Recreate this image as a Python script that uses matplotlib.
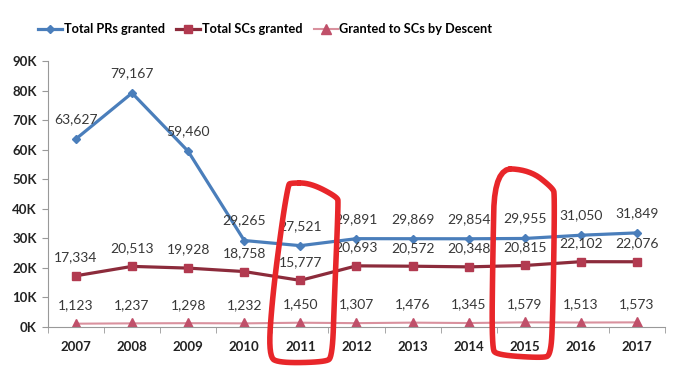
import matplotlib
matplotlib.use("Agg")
import matplotlib.pyplot as plt
from matplotlib.patches import PathPatch
from matplotlib.path import Path

years = ["2007", "2008", "2009", "2010", "2011", "2012", "2013", "2014", "2015", "2016", "2017"]
total_prs = [63627, 79167, 59460, 29265, 27521, 29891, 29869, 29854, 29955, 31050, 31849]
total_scs = [17334, 20513, 19928, 18758, 15777, 20693, 20572, 20348, 20815, 22102, 22076]
descent = [1123, 1237, 1298, 1232, 1450, 1307, 1476, 1345, 1579, 1513, 1573]
yticks = [0, 10000, 20000, 30000, 40000, 50000, 60000, 70000, 80000, 90000]
ytick_labels = ["0K", "10K", "20K", "30K", "40K", "50K", "60K", "70K", "80K", "90K"]
highlight = ["2011", "2015"]

plt.rcParams['font.family'] = ['Lato', 'DejaVu Sans']

W, H = 680, 383
fig = plt.figure(figsize=(6.8, 3.83), dpi=100)
ax = fig.add_axes([0.0704, 0.1462, 0.9076, 0.6945])
x = list(range(len(years)))

c_pr = "#4a7ebb"
c_sc = "#8c2b3b"
c_sc_m = "#b23a50"
c_de = "#d9919e"
c_de_m = "#c0506a"

ax.plot(x, total_prs, color=c_pr, lw=2.3, marker="D", ms=4.5, mfc=c_pr, mec=c_pr, label="Total PRs granted")
ax.plot(x, total_scs, color=c_sc, lw=2.3, marker="s", ms=6, mfc=c_sc_m, mec=c_sc_m, label="Total SCs granted")
ax.plot(x, descent, color=c_de, lw=1.5, marker="^", ms=6.5, mfc=c_de_m, mec=c_de_m, label="Granted to SCs by Descent")

for series, off in ((total_prs, 10), (total_scs, 9), (descent, 9)):
    for xi, v in zip(x, series):
        ax.annotate(f"{v:,}", (xi, v), xytext=(0, off), textcoords="offset points",
                    ha="center", va="bottom", fontsize=10, color="#383838")

ax.set_xlim(-0.5, len(years) - 0.5)
ax.set_ylim(0, 90000)
ax.set_yticks(yticks)
ax.set_yticklabels(ytick_labels, fontsize=9.5, fontweight="bold", color="#222222")
ax.set_xticks(x)
ax.set_xticklabels(years, fontsize=9.5, fontweight="bold", color="#222222")
ax.set_xticks([i + 0.5 for i in range(-1, len(years))], minor=True)
ax.tick_params(axis="x", which="major", length=0, pad=10)
ax.tick_params(axis="x", which="minor", length=4, color="#999999")
ax.tick_params(axis="y", length=4, color="#999999", pad=4)
for s in ["top", "right"]:
    ax.spines[s].set_visible(False)
for s in ["left", "bottom"]:
    ax.spines[s].set_color("#999999")

fig.legend(handles=ax.get_lines(), loc="center", bbox_to_anchor=(0.39, 1 - 29 / H),
           ncol=3, frameon=False, handlelength=1.9, columnspacing=0.9,
           handletextpad=0.1, prop={"weight": "bold", "size": 9.2})

# hand-drawn red highlight marks: (dx pixels from category centre, y pixels from top)
shapes = {
    "2011": [(-10, 183), (10, 183), (37, 197), (38, 203), (34, 300), (32, 357), (25, 362),
             (-20, 363), (-32, 357), (-28, 297), (-18, 220), (-12, 185)],
    "2015": [(-30, 168), (5, 170), (28, 188), (30, 195), (28, 318), (26, 355), (18, 358),
             (-28, 355), (-33, 348), (-32, 255)],
}


def chaikin(pts, n=2):
    for _ in range(n):
        out = []
        m = len(pts)
        for k in range(m):
            p, q = pts[k], pts[(k + 1) % m]
            out.append((0.75 * p[0] + 0.25 * q[0], 0.75 * p[1] + 0.25 * q[1]))
            out.append((0.25 * p[0] + 0.75 * q[0], 0.25 * p[1] + 0.75 * q[1]))
        pts = out
    return pts


fig.canvas.draw()
for yr in highlight:
    i = years.index(yr)
    cx = ax.transData.transform((i, 0))[0]
    raw = [(cx + dx, py) for dx, py in shapes[yr]]
    sm = chaikin(raw, 3)
    pts = [(px / W, 1 - py / H) for px, py in sm]
    pts.append(pts[0])
    path = Path(pts, [Path.MOVETO] + [Path.LINETO] * (len(pts) - 1))
    patch = PathPatch(path, transform=fig.transFigure, fill=False, ec="#e8262a", lw=4,
                      joinstyle="round", capstyle="round", zorder=10)
    fig.patches.append(patch)

fig.savefig("out.png", dpi=100)
